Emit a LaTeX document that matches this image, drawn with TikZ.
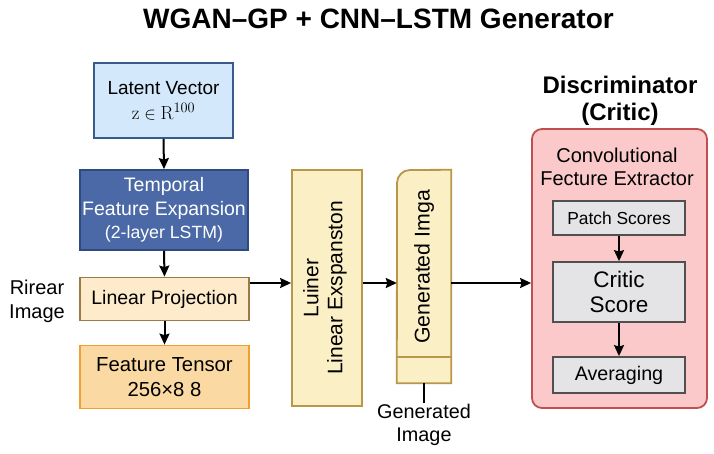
\documentclass[tikz,border=0pt]{standalone}
\usepackage{fontspec}
\setsansfont{Liberation Sans}
\renewcommand\familydefault{\sfdefault}
\usetikzlibrary{arrows.meta}
\definecolor{latfill}{HTML}{D3E8FA}
\definecolor{latdraw}{HTML}{3B5A8C}
\definecolor{tempfill}{HTML}{4A69A6}
\definecolor{tempdraw}{HTML}{2F4A80}
\definecolor{projfill}{HTML}{FDEBCB}
\definecolor{projdraw}{HTML}{9A7A45}
\definecolor{featfill}{HTML}{FBD9A3}
\definecolor{featdraw}{HTML}{F0A030}
\definecolor{yelfill}{HTML}{FBEFC5}
\definecolor{yeldraw}{HTML}{B8964A}
\definecolor{discfill}{HTML}{FBC9C9}
\definecolor{discdraw}{HTML}{C05050}
\definecolor{greyfill}{HTML}{E4E4E6}
\definecolor{greydraw}{HTML}{505050}
\begin{document}
\begin{tikzpicture}[x=1pt,y=-1pt,
  blk/.style={draw, line width=1.8pt, inner sep=0pt, align=center, font=\fontsize{19.5}{24}\selectfont},
  greybox/.style={blk, fill=greyfill, draw=greydraw, minimum width=132pt},
  arr/.style={-{Stealth[length=11pt,width=10pt,inset=1.5pt]}, line width=2pt},
  lbl/.style={align=center, inner sep=0pt, font=\fontsize{19.5}{24}\selectfont}]
\useasboundingbox (0,0) rectangle (714,454);
\fill[white] (0,0) rectangle (714,454);
\node[font=\fontsize{28}{32}\selectfont\bfseries] (title) at (378.5,19) {WGAN–GP + CNN–LSTM Generator};

\node[blk, fill=latfill, draw=latdraw, minimum width=139pt, minimum height=75pt, font=\fontsize{19}{25}\selectfont] (lat) at (163.5,100.5)
  {Latent Vector\\{\fontsize{19}{20}\selectfont $\mathrm{z}\in\mathrm{R}^{100}$}};
\node[blk, fill=tempfill, draw=tempdraw, text=white, minimum width=168pt, minimum height=80pt,
  font=\fontsize{19.5}{23.5}\selectfont] (temp) at (164,210)
  {Temporal\\Feature Expansion\\{\fontsize{17.7}{20}\selectfont(2-layer LSTM)}};
\node[blk, fill=projfill, draw=projdraw, minimum width=169pt, minimum height=43pt] (proj) at (164.5,299) {Linear Projection};
\node[blk, fill=featfill, draw=featdraw, minimum width=169pt, minimum height=63pt, font=\fontsize{20.3}{25}\selectfont] (feat) at (164.5,377) {Feature Tensor\\256×8 8};
\node[lbl, font=\fontsize{20}{24}\selectfont] (rirear) at (37,301) {Rirear\\Image};

\node[blk, fill=yelfill, draw=yeldraw, minimum width=70pt, minimum height=236pt] (lin) at (327,288) {};
\node[lbl, rotate=90, font=\fontsize{21}{24}\selectfont] (lintext) at (325,288) {Luiner\\Linear Exspanston};

% generated image block: only top-left corner rounded
\node[inner sep=0pt, minimum width=54pt, minimum height=213pt] (gen) at (424,276.5) {};
\draw[line width=1.8pt, draw=yeldraw, fill=yelfill] (gen.north east) -- (410,170)
  arc[start angle=270, end angle=180, radius=13] -- (gen.south west) -- (gen.south east) -- cycle;
\draw[line width=1.8pt, draw=yeldraw] (gen.south west |- 0,357) -- (gen.south east |- 0,357);
\node[lbl, rotate=90, font=\fontsize{21.3}{24}\selectfont] (gentext) at (424,267) {Generated Imga};
\node[lbl, font=\fontsize{19.8}{23}\selectfont] (genlbl) at (424,425) {Generated\\Image};

\node[font=\fontsize{24}{27}\selectfont\bfseries, align=center] (disctitle) at (620,101) {Discriminator\\(Critic)};
\node[blk, fill=discfill, draw=discdraw, rounded corners=10pt, minimum width=175pt, minimum height=279pt] (disc) at (619.5,268.5) {};
\node[lbl, font=\fontsize{20}{23}\selectfont] (conv) at (617,166.5) {Convolutional\\Fecture Extractor};
\node[greybox, minimum height=34pt, font=\fontsize{17.4}{20}\selectfont] (patch) at (619,218) {Patch Scores};
\node[greybox, minimum height=60pt, font=\fontsize{22.5}{25}\selectfont] (critic) at (619,292) {Critic\\Score};
\node[greybox, minimum height=36pt, font=\fontsize{19.7}{22}\selectfont] (avg) at (619,375) {Averaging};

\coordinate (mid) at (0,283);
\draw[arr] (lat.south) -- (temp.north);
\draw[arr] (temp.south) -- (proj.north);
\draw[arr] (proj.south) -- (feat.north);
\draw[arr] (proj.east |- mid) -- (lin.west |- mid);
\draw[arr] (lin.east |- mid) -- (gen.west |- mid);
\draw[arr] (gen.east |- mid) -- (disc.west |- mid);
\draw[line width=2pt] (gen.south) -- ++(0,20);
\draw[arr] (patch.south) -- (critic.north);
\draw[arr] (critic.south) -- (avg.north);
\end{tikzpicture}
\end{document}
